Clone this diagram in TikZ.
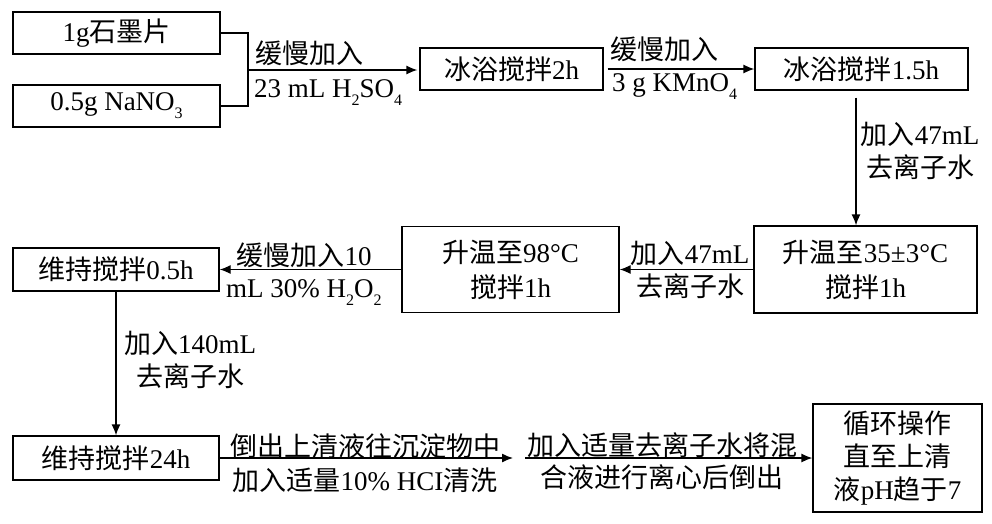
\documentclass[tikz,border=0pt]{standalone}
\usepackage{fontspec}
\setmainfont{Liberation Serif}
\newfontfamily\cjk{Noto Sans CJK SC}
\usetikzlibrary{arrows.meta}
\newcommand\zhtxt[1]{{\cjk #1}}
\newcommand\mysub[1]{\raisebox{-0.3em}{\fontsize{16}{16}\selectfont #1}}
\begin{document}
\begin{tikzpicture}[x=1pt,y=-1pt,
  box/.style={draw, line width=1.3pt, inner sep=0pt, align=center, font=\fontsize{27}{35}\selectfont},
  lbl/.style={inner sep=0pt, align=center, font=\fontsize{27}{33}\selectfont},
  conn/.style={line width=1.3pt},
  arr/.style={conn, -{Latex[length=11pt,width=9pt]}}]
\useasboundingbox (0,0) rectangle (992,523);
% boxes
\node[box, minimum width=207pt, minimum height=42pt] (b1) at (116.5,33) {1g\zhtxt{石墨片}};
\node[box, minimum width=207pt, minimum height=42pt] (b2) at (116.5,106) {0.5g NaNO\mysub{3}};
\node[box, minimum width=183pt, minimum height=42pt] (b3) at (511.5,69) {\zhtxt{冰浴搅拌}2h};
\node[box, minimum width=213pt, minimum height=42pt] (b4) at (861.5,69) {\zhtxt{冰浴搅拌}1.5h};
\node[box, minimum width=223pt, minimum height=87pt] (b5) at (865.5,269.5) {\zhtxt{升温至}35±3°C\\\zhtxt{搅拌}1h};
\node[box, minimum width=217pt, minimum height=86pt] (b6) at (510.5,269.5) {\zhtxt{升温至}98°C\\\zhtxt{搅拌}1h};
\node[box, minimum width=206pt, minimum height=43pt] (b7) at (116,269.5) {\zhtxt{维持搅拌}0.5h};
\node[box, minimum width=206pt, minimum height=44pt] (b8) at (116,458) {\zhtxt{维持搅拌}24h};
\node[box, minimum width=169pt, minimum height=108pt, font=\fontsize{27}{33}\selectfont] (b9) at (897.5,458) {\zhtxt{循环操作}\\\zhtxt{直至上清}\\\zhtxt{液}pH\zhtxt{趋于}7};
% connectors
\coordinate (j) at (248,70);
\draw[conn] (b1.east) -- (b1.east -| j) -- (b2.east -| j) -- (b2.east);
\draw[arr, shorten >=2pt] (j) -- (b3.west |- j);
\draw[arr, shorten <=4pt] (b3.east) -- (b4.west);
\coordinate (v) at (856,0);
\draw[arr, shorten <=7pt] (b4.south -| v) -- (b5.north -| v);
\draw[arr] (b5.west) -- (b6.east);
\draw[arr] (b6.west) -- (b7.east);
\draw[arr] (b7.south) -- (b8.north);
\coordinate (m1) at (513,458);
\coordinate (m2) at (525,458);
\draw[arr] (b8.east) -- (m1);
\draw[arr] (m2) -- (b9.west);
% labels
\node[lbl] (l1a) at (309,53) {\zhtxt{缓慢加入}};
\node[lbl, anchor=base west] (l1b) at (254,97) {23 mL H\mysub{2}SO\mysub{4}};
\node[lbl] (l2a) at (664,49) {\zhtxt{缓慢加入}};
\node[lbl, anchor=base west] (l2b) at (612,91) {3 g KMnO\mysub{4}};
\node[lbl] (l3) at (920,151) {\zhtxt{加入}47mL\\\zhtxt{去离子水}};
\node[lbl] (l4) at (690,269.5) {\zhtxt{加入}47mL\\\zhtxt{去离子水}};
\node[lbl] (l5a) at (304,255) {\zhtxt{缓慢加入}10};
\node[lbl, anchor=base west] (l5b) at (226,297) {mL 30\% H\mysub{2}O\mysub{2}};
\node[lbl] (l6) at (190,360) {\zhtxt{加入}140mL\\\zhtxt{去离子水}};
\node[lbl] (l7a) at (365,446) {\zhtxt{倒出上清液往沉淀物中}};
\node[lbl] (l7b) at (365,480) {\zhtxt{加入适量}10\% HCI\zhtxt{清洗}};
\node[lbl] (l8a) at (662,445) {\zhtxt{加入适量去离子水将混}};
\node[lbl] (l8b) at (662,477) {\zhtxt{合液进行离心后倒出}};
\end{tikzpicture}
\end{document}
